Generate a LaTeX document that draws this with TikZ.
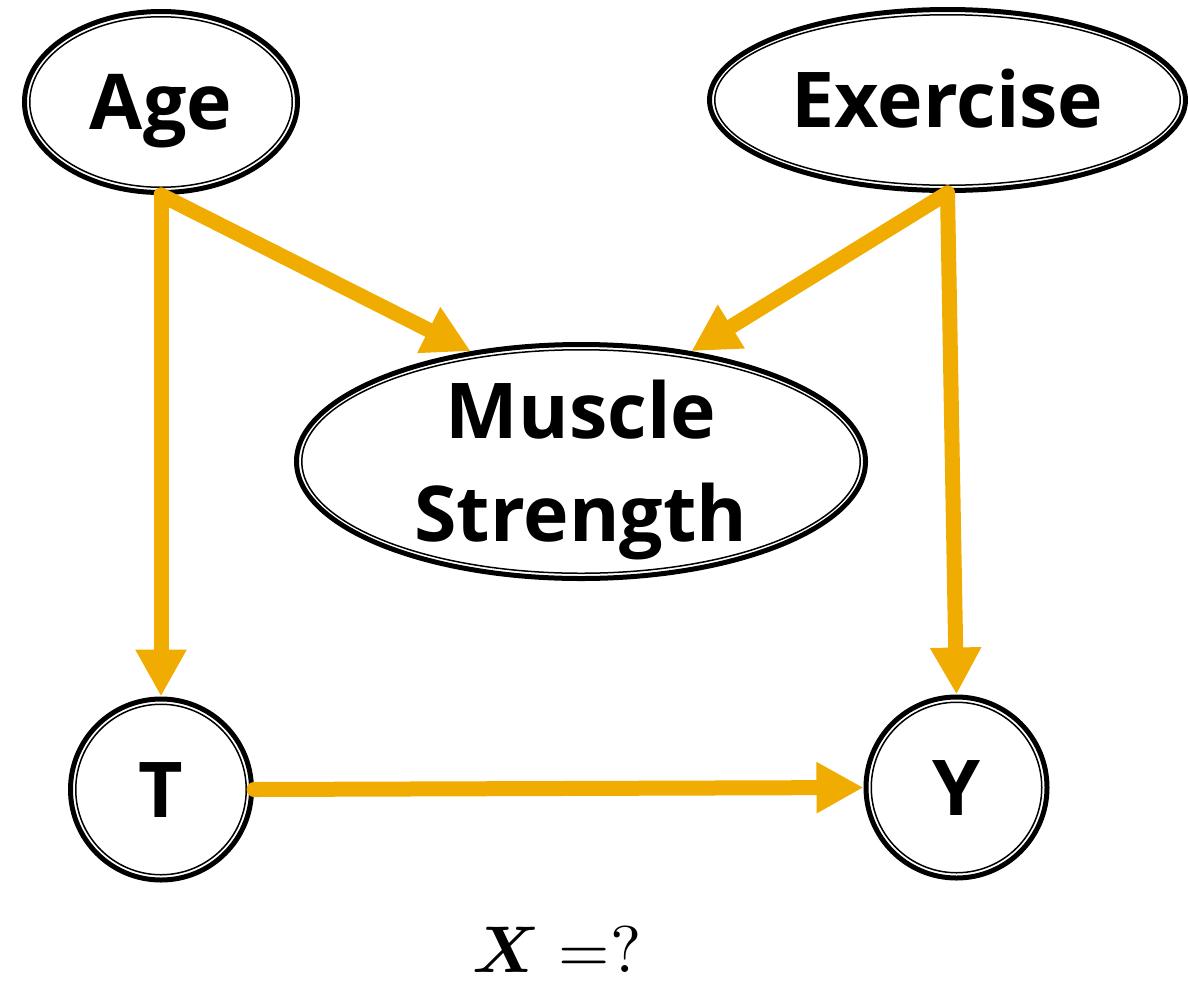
\documentclass[tikz,border=0pt]{standalone}
\usepackage{fontspec}
\usepackage{amsmath}
\usepackage{bm}
\newfontfamily\labelfont{Open Sans}
\usetikzlibrary{shapes.geometric,arrows.meta}
\definecolor{arrowc}{RGB}{240,172,0}
\begin{document}
\begin{tikzpicture}[x=1pt,y=-1pt,
  txt/.style={font=\labelfont\bfseries\fontsize{77}{103}\selectfont},
  var/.style={draw=black, line width=5pt, inner sep=0pt, fill=none, txt,
    text height=55pt, text depth=0pt},
  ovalnode/.style={var, ellipse},
  roundnode/.style={var, circle},
  innerring/.style={draw=black, line width=1.5pt},
  edge/.style={draw=arrowc, line width=15pt, line cap=round,
    -{Triangle[length=47pt,width=48pt]}},
  formula/.style={font=\fontsize{10}{12}\selectfont, inner sep=0pt, scale=6.6}
]
\useasboundingbox (0,0) rectangle (1188,983);

\node[ovalnode, minimum width=273pt, minimum height=181pt] (age) at (161,102) {Age};
\node[ovalnode, minimum width=476pt, minimum height=181pt] (exercise) at (947.5,100) {Exercise};
\node[ovalnode, minimum width=569pt, minimum height=234pt,
  label={[align=center, txt, yshift=-8pt]center:Muscle\\Strength}] (muscle) at (581,461.5) {};
\node[roundnode, minimum size=181pt] (t) at (161,789.5) {T};
\node[roundnode, minimum size=181pt] (y) at (956.5,787.5) {Y};

\draw[innerring] (age.center) ellipse [x radius=131.25, y radius=85.25];
\draw[innerring] (exercise.center) ellipse [x radius=232.75, y radius=85.25];
\draw[innerring] (muscle.center) ellipse [x radius=279.25, y radius=111.75];
\draw[innerring] (t.center) circle [radius=85.25];
\draw[innerring] (y.center) circle [radius=85.25];

\draw[edge] (age.south) -- (t.north);
\draw[edge] (age.south) -- (muscle.135);
\draw[edge] (exercise.south) -- (muscle.45);
\draw[edge] (exercise.south) -- (y.north);
\draw[edge] (t.east) -- (y.west);

\node[formula, anchor=base] (eq) at (557,972) {$\bm{X}\;{=}?$};
\end{tikzpicture}
\end{document}
